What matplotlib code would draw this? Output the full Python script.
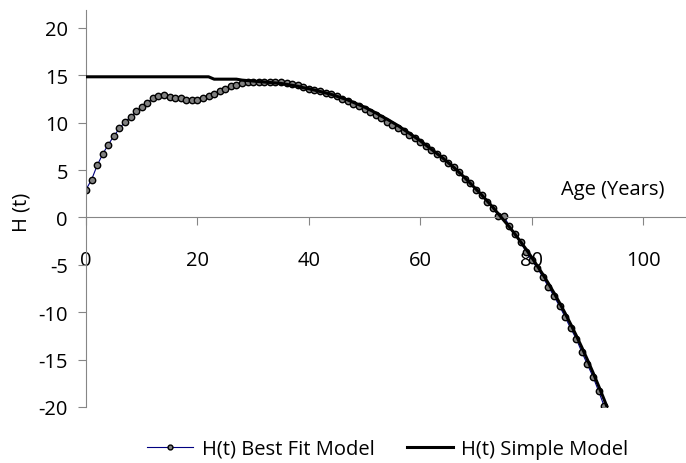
import numpy as np
import matplotlib.pyplot as plt

plt.rcParams['font.family'] = ['Open Sans', 'DejaVu Sans']
plt.rcParams['axes.unicode_minus'] = False

# ages (years)
age = list(range(0, 95))

best_fit = [2.95, 4.0, 5.5, 6.7, 7.7, 8.6, 9.4, 10.1, 10.6, 11.2,
            11.7, 12.1, 12.6, 12.8, 12.95, 12.7, 12.6, 12.6, 12.45, 12.45,
            12.45, 12.6, 12.8, 13.0, 13.3, 13.55, 13.85, 14.0, 14.2, 14.3,
            14.35, 14.3, 14.3, 14.3, 14.3, 14.25, 14.2, 14.1, 13.95, 13.75,
            13.6, 13.45, 13.3, 13.15, 13.0, 12.8, 12.5, 12.3, 12.0, 11.75,
            11.45, 11.15, 10.8, 10.45, 10.1, 9.8, 9.45, 9.1, 8.75, 8.35,
            7.95, 7.5, 7.1, 6.7, 6.3, 5.8, 5.3, 4.8, 4.05, 3.6,
            2.9, 2.4, 1.65, 1.05, 0.2, 0.15, -0.9, -1.7, -2.6, -3.6,
            -4.5, -5.3, -6.3, -7.3, -8.3, -9.35, -10.5, -11.7, -12.8, -14.2,
            -15.5, -16.8, -18.3, -19.9, -21.4]

simple = [14.85] * 23 + [14.6, 14.6, 14.6, 14.6, 14.6, 14.5, 14.45,
          14.4, 14.35, 14.3, 14.25, 14.2, 14.15, 14.05, 13.95, 13.85, 13.7,
          13.6, 13.45, 13.3, 13.15, 13.0, 12.8, 12.6, 12.4, 12.15, 11.9,
          11.65, 11.35, 11.05, 10.7, 10.4, 10.05, 9.7, 9.3, 8.9, 8.5,
          8.1, 7.65, 7.2, 6.75, 6.3, 5.8, 5.3, 4.75, 4.2, 3.6,
          3.0, 2.4, 1.75, 1.1, 0.4, -0.3, -1.0, -1.75, -2.55, -3.35,
          -4.2, -5.1, -6.0, -6.95, -7.95, -9.0, -10.1, -11.25, -12.45, -13.7,
          -15.0, -16.35, -17.75, -19.2, -20.7]

xticks = [0, 20, 40, 60, 80, 100]
yticks = [-20, -15, -10, -5, 0, 5, 10, 15, 20]

fs = 14.5

fig = plt.figure(figsize=(6.86, 4.64), dpi=100)
ax = fig.add_axes([0.1254, 0.1207, 0.877, 0.8556])

ax.plot(age, best_fit, color='#000080', lw=0.8, marker='o', markersize=4.6,
        markerfacecolor='#808080', markeredgecolor='black', markeredgewidth=1.0,
        label='H(t) Best Fit Model', zorder=2)
ax.plot(age, simple, color='black', lw=2.2, label='H(t) Simple Model', zorder=3)

ax.set_xlim(0, 108)
ax.set_ylim(-20, 21.9)
ax.set_xticks(xticks)
ax.set_yticks(yticks)

for s in ['top', 'right']:
    ax.spines[s].set_visible(False)
ax.spines['bottom'].set_position(('data', 0))
ax.spines['left'].set_color('#868686')
ax.spines['bottom'].set_color('#868686')
ax.tick_params(axis='x', direction='out', length=5.5, color='#868686',
               pad=18, labelsize=fs)
ax.tick_params(axis='y', direction='out', length=6, color='#868686',
               pad=7, labelsize=fs)

ax.text(94.6, 3.0, 'Age (Years)', ha='center', va='center', fontsize=fs)
fig.text(22 / 686, 1 - 212 / 464, 'H (t)', rotation=90, ha='center',
         va='center', fontsize=fs)

leg = fig.legend(loc='center', bbox_to_anchor=(0.565, 1 - 450 / 464), ncol=2,
                 frameon=False, fontsize=fs, handlelength=2.3,
                 columnspacing=1.6, handletextpad=0.4)
leg.legend_handles[0].set_markersize(3.5)

plt.savefig('out.png')
plt.close()
